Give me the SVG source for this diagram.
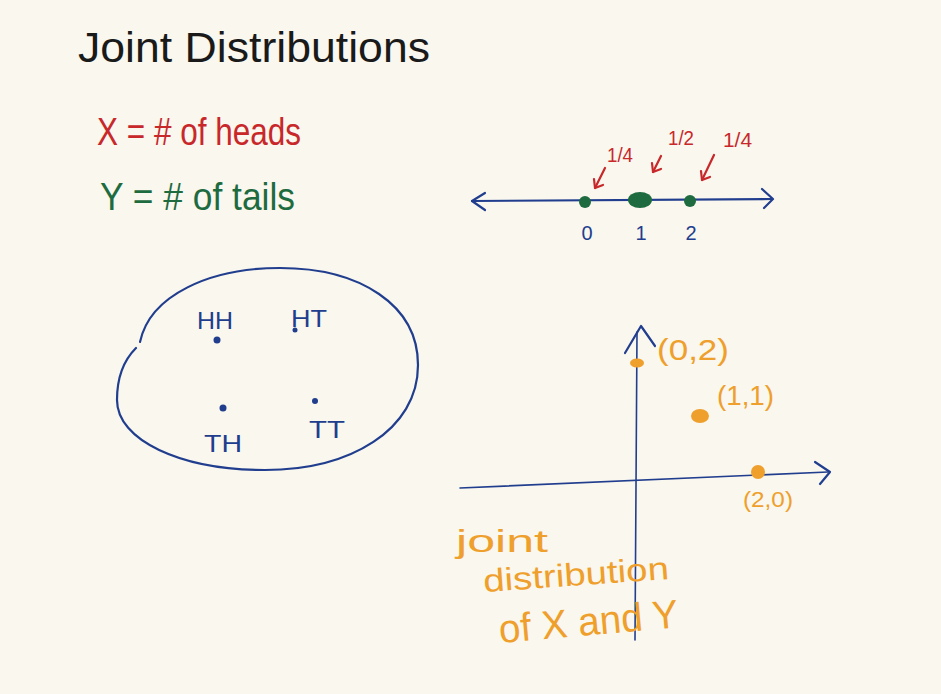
<svg xmlns="http://www.w3.org/2000/svg" width="941" height="694" viewBox="0 0 941 694">
<style>
.bg{fill:#f9f7ee}
.ink{fill:none;stroke-linecap:round;stroke-linejoin:round}
.blue{stroke:#213e8e;stroke-width:2.2}
.thin{stroke:#213e8e;stroke-width:1.6}
.red{stroke:#c8282a;stroke-width:2.2}
.t{font-family:"Liberation Sans","DejaVu Sans",sans-serif}
.tb{fill:#213e8e}
.tr{fill:#c8282a}
.tg{fill:#1f6b40}
.to{fill:#ef9f2c}
.dg{fill:#1f6b40}
.do{fill:#ef9f2c}
</style>
<rect class="bg" x="0" y="0" width="941" height="694"/>
<g id="title"><text class="t" x="78" y="62" font-size="42" fill="#1a1a1a" textLength="352" lengthAdjust="spacingAndGlyphs">Joint Distributions</text></g>
<g id="def-x"><text class="t tr" x="97" y="145" font-size="38" textLength="204" lengthAdjust="spacingAndGlyphs">X = # of heads</text></g>
<g id="def-y"><text class="t tg" x="100" y="210" font-size="38" textLength="195" lengthAdjust="spacingAndGlyphs">Y = # of tails</text></g>

<g id="sample-space">
<path class="ink blue" d="M140,342 C150,295 210,268 280,268 C360,268 418,305 418,365 C418,430 350,470 265,470 C180,470 117,440 117,400 C117,378 124,360 136,348"/>
<text class="t tb" x="197" y="329" font-size="24" textLength="36" lengthAdjust="spacingAndGlyphs">HH</text>
<circle class="tb" cx="217" cy="340" r="3.5"/>
<text class="t tb" x="291" y="327" font-size="24" textLength="36" lengthAdjust="spacingAndGlyphs">HT</text>
<circle class="tb" cx="295" cy="330" r="2.5"/>
<circle class="tb" cx="223" cy="408" r="3.5"/>
<text class="t tb" x="204" y="452" font-size="24" textLength="38" lengthAdjust="spacingAndGlyphs">TH</text>
<circle class="tb" cx="315" cy="401" r="3"/>
<text class="t tb" x="309" y="438" font-size="24" textLength="36" lengthAdjust="spacingAndGlyphs">TT</text>
</g>

<g id="number-line">
<path class="ink blue" d="M472,201 L772,199"/>
<path class="ink blue" d="M485,193 L472,201 L485,210"/>
<path class="ink blue" d="M762,189 L773,199 L764,208"/>
<ellipse class="dg" cx="585" cy="202" rx="6" ry="6"/>
<ellipse class="dg" cx="640" cy="200" rx="12" ry="8"/>
<ellipse class="dg" cx="690" cy="201" rx="6" ry="6"/>
<text class="t tb" x="587" y="240" font-size="20" text-anchor="middle">0</text>
<text class="t tb" x="641" y="240" font-size="20" text-anchor="middle">1</text>
<text class="t tb" x="691" y="240" font-size="20" text-anchor="middle">2</text>
</g>

<g id="connectors">
<path class="ink red" d="M605,168 L595,188"/>
<path class="ink red" d="M594,179 L595,188 L603,185"/>
<path class="ink red" d="M661,156 L653,172"/>
<path class="ink red" d="M652,163 L653,172 L661,169"/>
<path class="ink red" d="M714,155 L702,180"/>
<path class="ink red" d="M701,171 L702,180 L710,177"/>
</g>

<g id="probabilities">
<text class="t tr" x="607" y="162" font-size="20" textLength="26" lengthAdjust="spacingAndGlyphs">1/4</text>
<text class="t tr" x="668" y="145" font-size="20" textLength="26" lengthAdjust="spacingAndGlyphs">1/2</text>
<text class="t tr" x="723" y="147" font-size="20" textLength="29" lengthAdjust="spacingAndGlyphs">1/4</text>
</g>

<g id="axes">
<path class="ink thin" d="M635,640 L637,332"/>
<path class="ink blue" d="M625,353 L641,326 L655,346"/>
<path class="ink thin" d="M460,488 L828,472"/>
<path class="ink blue" d="M815,462 L830,472 L820,484"/>
</g>

<g id="pt-02"><ellipse class="do" cx="637" cy="363" rx="7" ry="4.5"/><text class="t to" x="657" y="360" font-size="30" textLength="72" lengthAdjust="spacingAndGlyphs">(0,2)</text></g>
<g id="pt-11"><ellipse class="do" cx="700" cy="416" rx="9" ry="7"/><text class="t to" x="717" y="405" font-size="28" textLength="57" lengthAdjust="spacingAndGlyphs">(1,1)</text></g>
<g id="pt-20"><circle class="do" cx="758" cy="472" r="7"/><text class="t to" x="743" y="507" font-size="22" textLength="50" lengthAdjust="spacingAndGlyphs">(2,0)</text></g>

<g id="caption">
<text class="t to" x="456" y="552" font-size="32" textLength="92" lengthAdjust="spacingAndGlyphs">joint</text>
<text class="t to" x="484" y="592" font-size="32" textLength="186" lengthAdjust="spacingAndGlyphs" transform="rotate(-4 484 592)">distribution</text>
<text class="t to" x="500" y="643" font-size="40" textLength="180" lengthAdjust="spacingAndGlyphs" transform="rotate(-5 500 643)">of X and Y</text>
</g>
</svg>
